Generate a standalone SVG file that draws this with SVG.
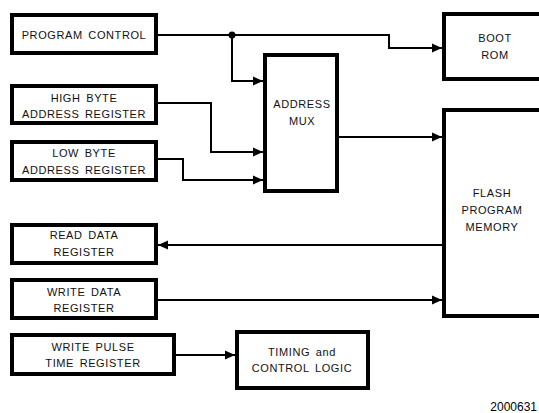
<svg xmlns="http://www.w3.org/2000/svg" width="539" height="413" viewBox="0 0 539 413">
<defs>
<style>
.box{fill:#fff;stroke:#000;stroke-width:4}
.lbl{font-family:"Liberation Sans",Arial,sans-serif;font-size:11px;letter-spacing:0.6px;word-spacing:2px;fill:#111;text-anchor:middle}
.wire{fill:none;stroke:#000;stroke-width:2}
</style>
<marker id="arr" markerWidth="10" markerHeight="10" viewBox="0 0 10 10" refX="10" refY="5" orient="auto" markerUnits="userSpaceOnUse">
<path d="M0,0.5 L10,5 L0,9.5 Z" fill="#000"/>
</marker>
</defs>
<rect width="539" height="413" fill="#fff"/>
<g id="connectors">
<polyline class="wire" points="156,35 389,35 389,48 442,48" marker-end="url(#arr)"/>
<circle cx="232" cy="35" r="3.5" fill="#000"/>
<polyline class="wire" points="232,35 232,81 263,81" marker-end="url(#arr)"/>
<polyline class="wire" points="156,103 211,103 211,152 263,152" marker-end="url(#arr)"/>
<polyline class="wire" points="156,159 183,159 183,180 263,180" marker-end="url(#arr)"/>
<line class="wire" x1="337" y1="137" x2="442" y2="137" marker-end="url(#arr)"/>
<line class="wire" x1="444" y1="245" x2="158" y2="245" marker-end="url(#arr)"/>
<line class="wire" x1="156" y1="300" x2="442" y2="300" marker-end="url(#arr)"/>
<line class="wire" x1="174" y1="355" x2="235" y2="355" marker-end="url(#arr)"/>
</g>
<g id="program-control">
<rect class="box" x="12" y="15" width="144" height="38"/>
<text class="lbl" x="84" y="39">PROGRAM CONTROL</text>
</g>
<g id="high-byte">
<rect class="box" x="12" y="86" width="144" height="37"/>
<text class="lbl" x="84" y="102">HIGH BYTE</text>
<text class="lbl" x="84" y="118">ADDRESS REGISTER</text>
</g>
<g id="low-byte">
<rect class="box" x="12" y="142" width="144" height="38"/>
<text class="lbl" x="84" y="157">LOW BYTE</text>
<text class="lbl" x="84" y="174">ADDRESS REGISTER</text>
</g>
<g id="address-mux">
<rect class="box" x="265" y="55" width="72" height="136"/>
<text class="lbl" x="302" y="108">ADDRESS</text>
<text class="lbl" x="302" y="125">MUX</text>
</g>
<g id="boot-rom">
<rect class="box" x="444" y="14" width="100" height="65"/>
<text class="lbl" x="495" y="42">BOOT</text>
<text class="lbl" x="495" y="59">ROM</text>
</g>
<g id="flash">
<rect class="box" x="444" y="110" width="100" height="206"/>
<text class="lbl" x="492" y="197">FLASH</text>
<text class="lbl" x="492" y="214">PROGRAM</text>
<text class="lbl" x="492" y="231">MEMORY</text>
</g>
<g id="read-data">
<rect class="box" x="12" y="225" width="144" height="38"/>
<text class="lbl" x="84" y="239">READ DATA</text>
<text class="lbl" x="84" y="256">REGISTER</text>
</g>
<g id="write-data">
<rect class="box" x="12" y="280" width="144" height="38"/>
<text class="lbl" x="84" y="296">WRITE DATA</text>
<text class="lbl" x="84" y="312">REGISTER</text>
</g>
<g id="write-pulse">
<rect class="box" x="12" y="335" width="162" height="39"/>
<text class="lbl" x="93" y="351">WRITE PULSE</text>
<text class="lbl" x="93" y="367">TIME REGISTER</text>
</g>
<g id="timing">
<rect class="box" x="237" y="332" width="131" height="56"/>
<text class="lbl" x="302" y="356">TIMING and</text>
<text class="lbl" x="302" y="372">CONTROL LOGIC</text>
</g>
<text x="537" y="411" font-family="Liberation Sans,Arial,sans-serif" font-size="12" text-anchor="end" fill="#000">2000631</text>
</svg>
